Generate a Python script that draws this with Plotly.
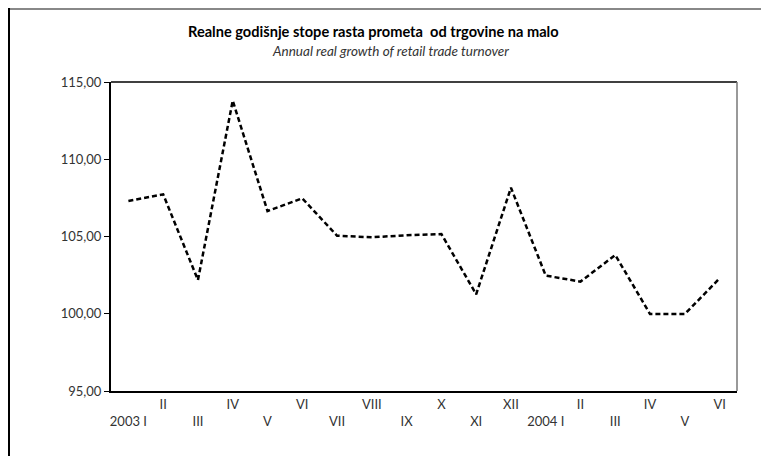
import plotly.graph_objects as go

months = ["2003 I", "II", "III", "IV", "V", "VI", "VII", "VIII", "IX", "X", "XI", "XII",
          "2004 I", "II ", "III ", "IV ", "V ", "VI "]
tick_labels = ["2003 I", "II", "III", "IV", "V", "VI", "VII", "VIII", "IX", "X", "XI", "XII",
               "2004 I", "II", "III", "IV", "V", "VI"]
values = [107.30, 107.73, 102.18, 113.79, 106.65, 107.47, 105.05, 104.95, 105.08, 105.16,
          101.26, 108.16, 102.47, 102.08, 103.80, 99.98, 99.98, 102.29]
y_ticks = [95, 100, 105, 110, 115]

title = "<b>Realne godišnje stope rasta prometa  od trgovine na malo</b>"
subtitle = "<i>Annual real growth of retail trade turnover</i>"

ticktext = [lab if i % 2 == 1 else " <br>" + lab for i, lab in enumerate(tick_labels)]

# page offset of the html body (8px default margin)
OFF = 8
W, H = 769 - OFF, 456 - OFF
L, R, T, B = 111 - OFF, 769 - 737, 82 - OFF, 456 - 391
PW, PH = W - L - R, H - T - B


def px(x):
    return (x - OFF - L) / PW


def py(y):
    return (H - B - (y - OFF)) / PH


fig = go.Figure()
fig.add_trace(go.Scatter(
    x=months, y=values, mode="lines",
    line=dict(color="black", width=2.5, dash="5px,3px"),
    hoverinfo="skip", showlegend=False,
))

fig.update_layout(
    width=W, height=H,
    margin=dict(l=L, r=R, t=T, b=B),
    paper_bgcolor="white", plot_bgcolor="white",
    separators=",.",
    font=dict(family="Lato, 'Open Sans', sans-serif", size=13, color="#222222"),
    xaxis=dict(
        type="category", range=[-0.5, 17.5],
        tickvals=months, ticktext=ticktext,
        showgrid=False, zeroline=False, ticks="",
        showline=True, linecolor="black", linewidth=2, mirror=False,
        tickfont=dict(size=13, color="#333333"),
    ),
    yaxis=dict(
        range=[95, 115], tickvals=y_ticks, tickformat=".2f",
        showgrid=False, zeroline=False,
        ticks="outside", ticklen=5, tickwidth=1, tickcolor="black",
        showline=True, linecolor="black", linewidth=2,
        tickfont=dict(size=13, color="#333333"),
    ),
    shapes=[
        # plot frame top & right
        dict(type="line", xref="paper", yref="paper", x0=0, x1=1, y0=1, y1=1,
             line=dict(color="black", width=1.5)),
        dict(type="line", xref="paper", yref="paper", x0=1, x1=1, y0=0, y1=1,
             line=dict(color="#777777", width=1.5)),
        # outer border
        dict(type="line", xref="paper", yref="paper",
             x0=px(OFF), x1=px(769), y0=py(OFF + 1), y1=py(OFF + 1),
             line=dict(color="#888888", width=2)),
        dict(type="line", xref="paper", yref="paper",
             x0=px(OFF + 1), x1=px(OFF + 1), y0=py(OFF), y1=py(460),
             line=dict(color="black", width=2)),
    ],
    annotations=[
        dict(text=title, xref="paper", yref="paper",
             x=px(373), y=py(32), xanchor="center", yanchor="middle",
             showarrow=False, font=dict(size=14.6, color="black")),
        dict(text=subtitle, xref="paper", yref="paper",
             x=px(390), y=py(51), xanchor="center", yanchor="middle",
             showarrow=False, font=dict(size=13.5, color="#333333")),
    ],
)

fig.write_html("out.html")
